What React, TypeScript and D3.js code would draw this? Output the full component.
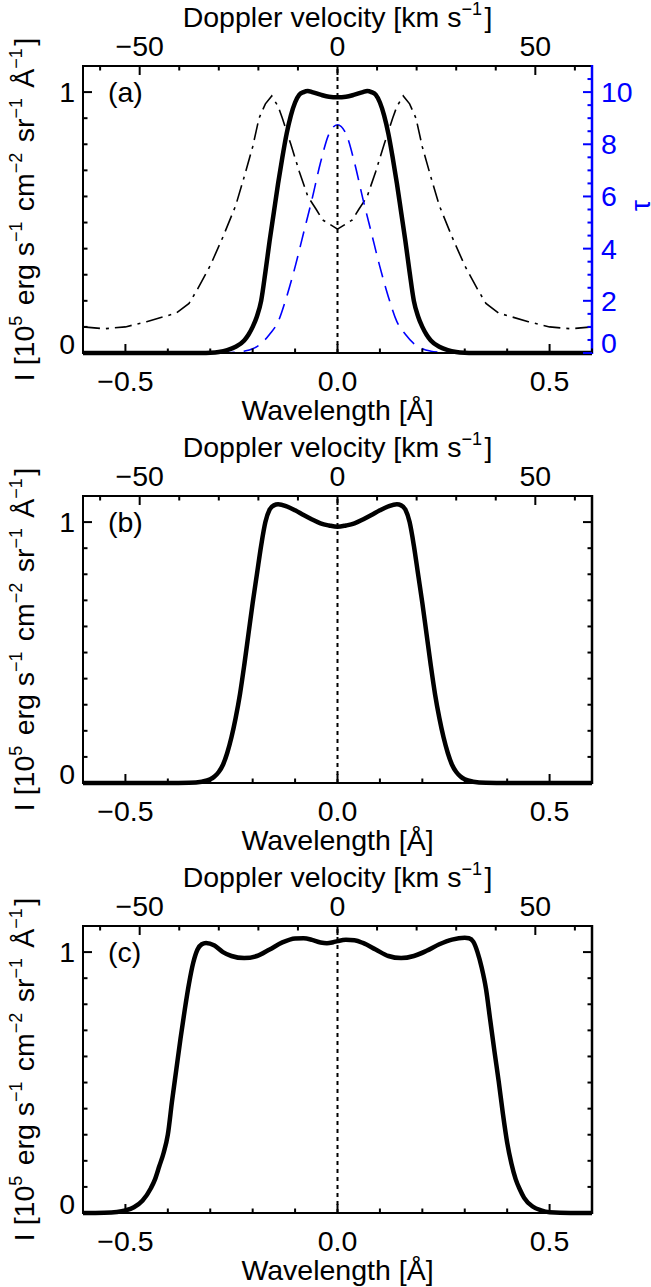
import React from 'react';
import * as d3 from 'd3';

const W = 651;
const H = 1287;
const LAMBDA0 = 2796.35; // Å, line centre used for Doppler axis
const C_KMS = 299792.458;

// ---- tick values / labels ----
const wlMajorTicks = [-0.5, 0, 0.5];
const wlMajorLabels = ['\u22120.5', '0.0', '0.5'];
const wlMinorTicks = [-0.6, -0.4, -0.3, -0.2, -0.1, 0.1, 0.2, 0.3, 0.4, 0.6];
const velMajorTicks = [-50, 0, 50];
const velMajorLabels = ['\u221250', '0', '50'];
const velMinorTicks = [-60, -40, -30, -20, -10, 10, 20, 30, 40, 60];
const intMajorTicks = [0, 1];
const intMajorLabels = ['0', '1'];
const intMinorTicks = [0.1, 0.2, 0.3, 0.4, 0.5, 0.6, 0.7, 0.8, 0.9];
const tauMajorTicks = [0, 2, 4, 6, 8, 10];
const tauMajorLabels = ['0', '2', '4', '6', '8', '10'];
const tauMinorTicks = [0.5, 1, 1.5, 2.5, 3, 3.5, 4.5, 5, 5.5, 6.5, 7, 7.5, 8.5, 9, 9.5, 10.5];
const panelLabels = ['(a)', '(b)', '(c)'];

// ---- panel (a) ----
const aSolidWl = [-0.6, -0.4, -0.32, -0.3, -0.28, -0.26, -0.24, -0.22, -0.21, -0.2, -0.19, -0.18, -0.17, -0.16, -0.15, -0.14, -0.13, -0.12, -0.11, -0.1, -0.09, -0.08, -0.07, -0.06, -0.04, -0.02, 0,
  0.02, 0.04, 0.06, 0.07, 0.08, 0.09, 0.1, 0.11, 0.12, 0.13, 0.14, 0.15, 0.16, 0.17, 0.18, 0.19, 0.2, 0.21, 0.22, 0.24, 0.26, 0.28, 0.3, 0.32, 0.4, 0.6];
const aSolidI = [0, 0, 0, 0.001, 0.004, 0.011, 0.024, 0.048, 0.07, 0.1, 0.14, 0.2, 0.31, 0.43, 0.54, 0.65, 0.75, 0.84, 0.91, 0.96, 0.99, 1.0, 1.004, 1.0, 0.99, 0.982, 0.98,
  0.982, 0.99, 1.0, 1.004, 1.0, 0.99, 0.96, 0.91, 0.84, 0.75, 0.65, 0.54, 0.43, 0.31, 0.2, 0.14, 0.1, 0.07, 0.048, 0.024, 0.011, 0.004, 0.001, 0, 0, 0];

const aDashDotWl = [-0.6, -0.55, -0.5, -0.45, -0.38, -0.35, -0.33, -0.3, -0.27, -0.24, -0.22, -0.2, -0.185, -0.17, -0.155, -0.14, -0.13, -0.11, -0.09, -0.07, -0.05, -0.035, 0,
  0.035, 0.05, 0.07, 0.09, 0.11, 0.13, 0.14, 0.155, 0.17, 0.185, 0.2, 0.22, 0.24, 0.27, 0.3, 0.33, 0.35, 0.38, 0.45, 0.5, 0.55, 0.6];
const aDashDotI = [0.1, 0.093, 0.1, 0.12, 0.153, 0.19, 0.245, 0.335, 0.445, 0.565, 0.675, 0.79, 0.9, 0.955, 0.985, 0.945, 0.9, 0.8, 0.695, 0.6, 0.55, 0.51, 0.475,
  0.51, 0.55, 0.6, 0.695, 0.8, 0.9, 0.945, 0.985, 0.955, 0.9, 0.79, 0.675, 0.565, 0.445, 0.335, 0.245, 0.19, 0.153, 0.12, 0.1, 0.093, 0.1];

const aTauWl = [-0.28, -0.26, -0.24, -0.22, -0.2, -0.18, -0.16, -0.14, -0.12, -0.1, -0.08, -0.06, -0.04, -0.02, 0,
  0.02, 0.04, 0.06, 0.08, 0.1, 0.12, 0.14, 0.16, 0.18, 0.2, 0.22, 0.24, 0.26, 0.28];
const aTau = [0, 0.01, 0.03, 0.07, 0.16, 0.36, 0.72, 1.2, 2.15, 3.3, 4.6, 5.9, 7.3, 8.4, 8.75,
  8.4, 7.3, 5.9, 4.6, 3.3, 2.15, 1.2, 0.72, 0.36, 0.16, 0.07, 0.03, 0.01, 0];

// ---- panel (b) ----
const bSolidWl = [-0.6, -0.4, -0.35, -0.32, -0.3, -0.29, -0.28, -0.27, -0.26, -0.25, -0.24, -0.23, -0.22, -0.21, -0.2, -0.19, -0.18, -0.17, -0.16, -0.15, -0.14, -0.12, -0.1, -0.08, -0.06, -0.04, -0.02, 0,
  0.02, 0.04, 0.06, 0.08, 0.1, 0.12, 0.14, 0.15, 0.16, 0.17, 0.18, 0.19, 0.2, 0.21, 0.22, 0.23, 0.24, 0.25, 0.26, 0.27, 0.28, 0.29, 0.3, 0.32, 0.35, 0.4, 0.6];
const bSolidI = [0, 0, 0.001, 0.005, 0.014, 0.025, 0.042, 0.07, 0.115, 0.175, 0.25, 0.34, 0.45, 0.57, 0.69, 0.8, 0.91, 1.0, 1.048, 1.064, 1.068, 1.06, 1.045, 1.027, 1.01, 0.995, 0.987, 0.982,
  0.987, 0.995, 1.01, 1.027, 1.045, 1.06, 1.068, 1.064, 1.048, 1.0, 0.91, 0.8, 0.69, 0.57, 0.45, 0.34, 0.25, 0.175, 0.115, 0.07, 0.042, 0.025, 0.014, 0.005, 0.001, 0, 0];

// ---- panel (c) ----
const cSolidWl = [-0.6, -0.55, -0.52, -0.5, -0.48, -0.46, -0.44, -0.43, -0.42, -0.41, -0.4, -0.39, -0.38, -0.37, -0.36, -0.35, -0.34, -0.33, -0.32, -0.31, -0.29, -0.27, -0.25, -0.22, -0.19, -0.16, -0.13, -0.1, -0.08, -0.06, -0.04, -0.025, -0.01, 0,
  0.02, 0.04, 0.06, 0.09, 0.12, 0.15, 0.18, 0.21, 0.24, 0.27, 0.3, 0.31, 0.32, 0.33, 0.34, 0.35, 0.36, 0.37, 0.38, 0.39, 0.4, 0.41, 0.42, 0.43, 0.44, 0.46, 0.48, 0.5, 0.55, 0.6];
const cSolidI = [0, 0.001, 0.004, 0.01, 0.022, 0.047, 0.095, 0.13, 0.18, 0.23, 0.3, 0.43, 0.55, 0.67, 0.78, 0.88, 0.96, 1.01, 1.03, 1.035, 1.025, 1.0, 0.985, 0.977, 0.985, 1.01, 1.037, 1.052, 1.053, 1.047, 1.037, 1.034, 1.038, 1.042,
  1.047, 1.045, 1.035, 1.01, 0.985, 0.977, 0.985, 1.005, 1.03, 1.048, 1.055, 1.053, 1.04, 1.0, 0.94, 0.86, 0.74, 0.62, 0.505, 0.38, 0.27, 0.19, 0.13, 0.09, 0.058, 0.025, 0.01, 0.003, 0, 0];

const FONT = 'Liberation Sans, Arial, Helvetica, sans-serif';
const FS = 28.5;
const BLUE = '#0000ff';

const LEFT = 83;
const RIGHT = 592;
const PANEL_H = 287;
const panelTops = [66, 496, 926];

const zip = (a: number[], b: number[]): [number, number][] => a.map((v, i) => [v, b[i]]);

function Sup({ children }: { children: React.ReactNode }) {
  return (
    <>
      <tspan dy={-12} fontSize={18}>{children}</tspan>
      <tspan dy={12}>{'\u200A'}</tspan>
    </>
  );
}

function Panel({ idx }: { idx: number }) {
  const top = panelTops[idx];
  const bottom = top + PANEL_H;
  const x = d3.scaleLinear().domain([-0.6, 0.6]).range([LEFT, RIGHT]);
  const vMax = (0.6 / LAMBDA0) * C_KMS;
  const xv = d3.scaleLinear().domain([-vMax, vMax]).range([LEFT, RIGHT]);
  const y = d3.scaleLinear().domain([0, 1.1]).range([bottom, top]);
  const yt = d3.scaleLinear().domain([0, 11]).range([bottom, top]);

  const smooth = d3.line<[number, number]>().x((d) => x(d[0])).y((d) => y(d[1])).curve(d3.curveMonotoneX);
  const lin = d3.line<[number, number]>().x((d) => x(d[0])).y((d) => y(d[1]));
  const tauLine = d3.line<[number, number]>().x((d) => x(d[0])).y((d) => yt(d[1])).curve(d3.curveMonotoneX);

  const MAJ = 9;
  const MIN = 4.5;
  const rightColor = idx === 0 ? BLUE : '#000';

  let solid: [number, number][] = [];
  if (idx === 0) solid = zip(aSolidWl, aSolidI);
  if (idx === 1) solid = zip(bSolidWl, bSolidI);
  if (idx === 2) solid = zip(cSolidWl, cSolidI);

  const cy = (top + bottom) / 2;

  return (
    <g>
      {idx === 0 && (
        <path d={lin(zip(aDashDotWl, aDashDotI)) || ''} fill="none" stroke="#000" strokeWidth={1.6} strokeDasharray="17,6,3,6" />
      )}
      <path d={smooth(solid) || ''} fill="none" stroke="#000" strokeWidth={4.5} strokeLinejoin="round" />
      {idx === 0 && (
        <path d={tauLine(zip(aTauWl, aTau)) || ''} fill="none" stroke={BLUE} strokeWidth={1.6} strokeDasharray="16,9" />
      )}
      <line x1={x(0)} x2={x(0)} y1={bottom} y2={top} stroke="#000" strokeWidth={2} strokeDasharray="4,4" />

      <line x1={LEFT} x2={RIGHT} y1={top} y2={top} stroke="#000" strokeWidth={2} />
      <line x1={LEFT} x2={RIGHT} y1={bottom} y2={bottom} stroke="#000" strokeWidth={2} />
      <line x1={LEFT} x2={LEFT} y1={top - 1} y2={bottom + 1} stroke="#000" strokeWidth={2} />
      <line x1={RIGHT} x2={RIGHT} y1={top - 1} y2={bottom + 1} stroke={rightColor} strokeWidth={2.5} />

      {wlMajorTicks.map((t) => (
        <line key={'bM' + t} x1={x(t)} x2={x(t)} y1={bottom} y2={bottom - MAJ} stroke="#000" strokeWidth={2} />
      ))}
      {wlMinorTicks.map((t) => (
        <line key={'bm' + t} x1={x(t)} x2={x(t)} y1={bottom} y2={bottom - MIN} stroke="#000" strokeWidth={2} />
      ))}
      {wlMajorTicks.map((t, i) => (
        <text key={'bl' + t} x={x(t)} y={bottom + 38} textAnchor="middle" fontFamily={FONT} fontSize={FS}>{wlMajorLabels[i]}</text>
      ))}
      <text x={x(0)} y={bottom + 67} textAnchor="middle" fontFamily={FONT} fontSize={FS}>Wavelength [Å]</text>

      {velMajorTicks.map((t) => (
        <line key={'tM' + t} x1={xv(t)} x2={xv(t)} y1={top} y2={top + MAJ} stroke="#000" strokeWidth={2} />
      ))}
      {velMinorTicks.map((t) => (
        <line key={'tm' + t} x1={xv(t)} x2={xv(t)} y1={top} y2={top + MIN} stroke="#000" strokeWidth={2} />
      ))}
      {velMajorTicks.map((t, i) => (
        <text key={'tl' + t} x={xv(t)} y={top - 10} textAnchor="middle" fontFamily={FONT} fontSize={FS}>{velMajorLabels[i]}</text>
      ))}
      <text x={x(0)} y={top - 39} textAnchor="middle" fontFamily={FONT} fontSize={FS}>
        Doppler velocity [km s<Sup>{'\u22121'}</Sup>]
      </text>

      {intMajorTicks.map((t) => (
        <line key={'lM' + t} x1={LEFT} x2={LEFT + MAJ} y1={y(t)} y2={y(t)} stroke="#000" strokeWidth={2} />
      ))}
      {intMinorTicks.map((t) => (
        <line key={'lm' + t} x1={LEFT} x2={LEFT + MIN} y1={y(t)} y2={y(t)} stroke="#000" strokeWidth={2} />
      ))}
      {intMajorTicks.map((t, i) => (
        <text key={'ll' + t} x={LEFT - 8} y={y(t) + (t === 0 ? 1 : 10)} textAnchor="end" fontFamily={FONT} fontSize={FS}>{intMajorLabels[i]}</text>
      ))}

      {idx === 0 ? (
        <g>
          {tauMajorTicks.map((t) => (
            <line key={'rM' + t} x1={RIGHT} x2={RIGHT - MAJ} y1={yt(t)} y2={yt(t)} stroke={BLUE} strokeWidth={2} />
          ))}
          {tauMinorTicks.map((t) => (
            <line key={'rm' + t} x1={RIGHT} x2={RIGHT - MIN} y1={yt(t)} y2={yt(t)} stroke={BLUE} strokeWidth={2} />
          ))}
          {tauMajorTicks.map((t, i) => (
            <text key={'rl' + t} x={RIGHT + 9} y={yt(t) + (t === 0 ? 0 : 10)} textAnchor="start" fontFamily={FONT} fontSize={FS} fill={BLUE}>{tauMajorLabels[i]}</text>
          ))}
          <text transform={`translate(650, ${cy - 4}) rotate(-90)`} textAnchor="middle" fontFamily={FONT} fontSize={FS} fill={BLUE}>τ</text>
        </g>
      ) : (
        <g>
          {intMajorTicks.map((t) => (
            <line key={'rM' + t} x1={RIGHT} x2={RIGHT - MAJ} y1={y(t)} y2={y(t)} stroke="#000" strokeWidth={2} />
          ))}
          {intMinorTicks.map((t) => (
            <line key={'rm' + t} x1={RIGHT} x2={RIGHT - MIN} y1={y(t)} y2={y(t)} stroke="#000" strokeWidth={2} />
          ))}
        </g>
      )}

      <text x={108} y={top + 36} fontFamily={FONT} fontSize={FS}>{panelLabels[idx]}</text>

      <text transform={`translate(34, ${cy}) rotate(-90)`} textAnchor="middle" fontFamily={FONT} fontSize={FS}>
        I [10<Sup>5</Sup> erg s<Sup>{'\u22121'}</Sup> cm<Sup>{'\u22122'}</Sup> sr<Sup>{'\u22121'}</Sup> Å<Sup>{'\u22121'}</Sup>]
      </text>
    </g>
  );
}

export default function App() {
  return (
    <svg
      width={W}
      height={H}
      viewBox={`0 0 ${W} ${H}`}
      style={{ position: 'absolute', left: 0, top: 0, background: '#fff' }}
    >
      <rect x={0} y={0} width={W} height={H} fill="#fff" />
      {[0, 1, 2].map((i) => (
        <Panel key={i} idx={i} />
      ))}
    </svg>
  );
}
